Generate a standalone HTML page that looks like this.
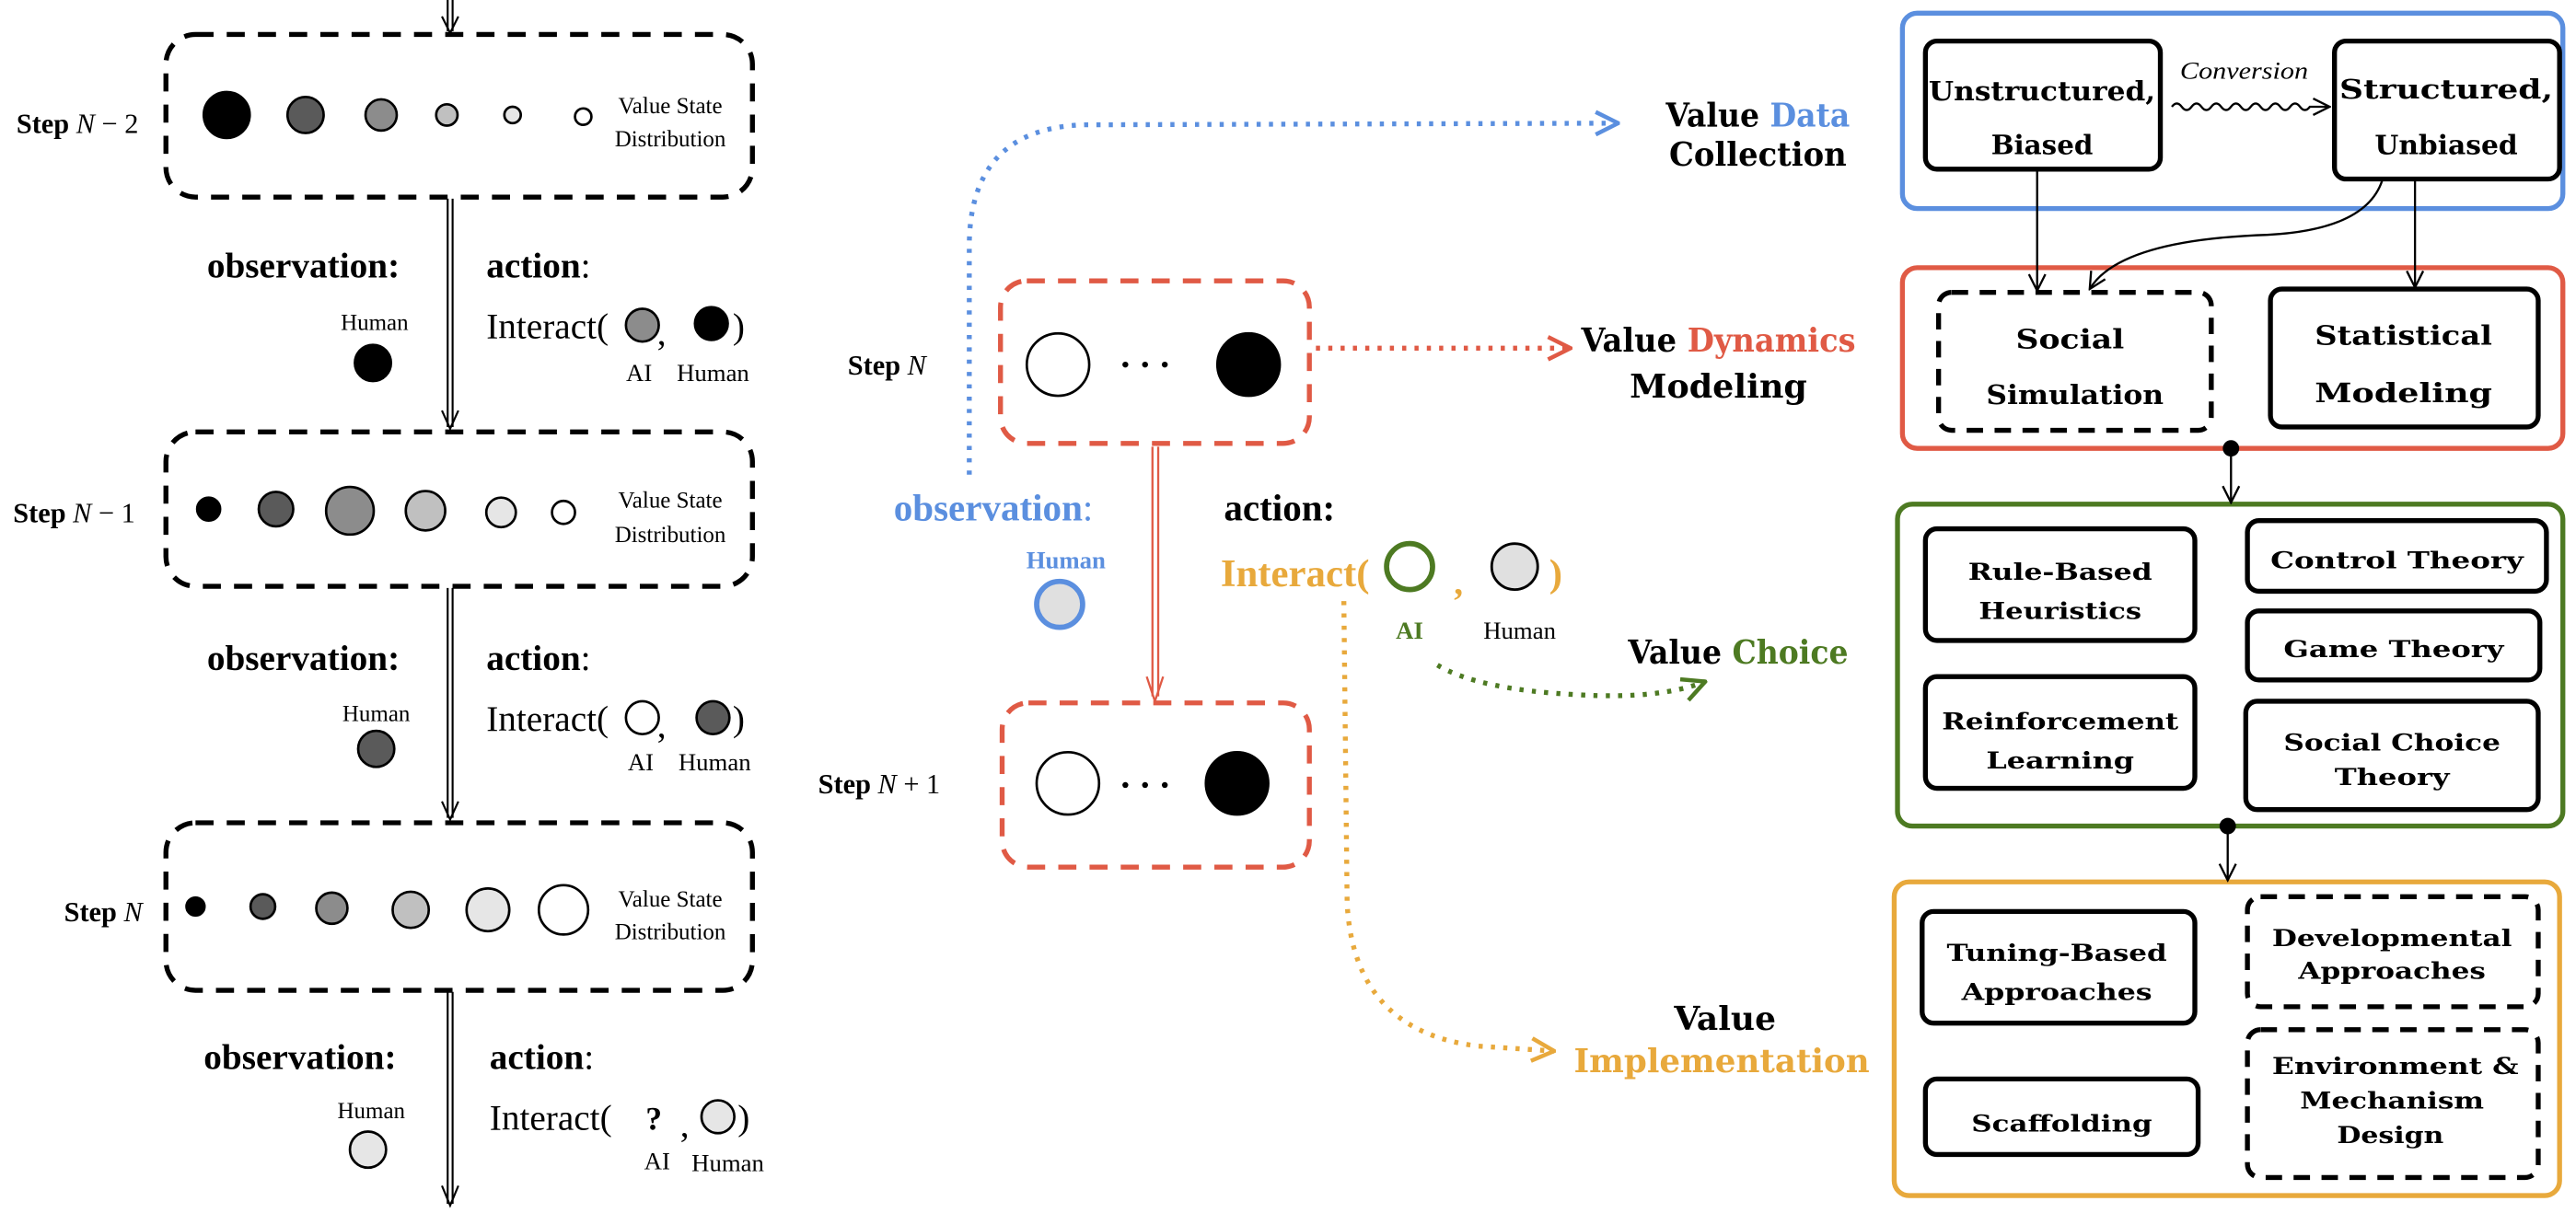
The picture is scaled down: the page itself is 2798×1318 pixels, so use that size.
<!DOCTYPE html>
<html><head><meta charset="utf-8"><style>
html,body{margin:0;padding:0;background:#fff;}
svg{display:block;}
.ser{font-family:"Liberation Serif",serif;}
.bw{font-family:"DejaVu Serif","Liberation Serif",serif;font-weight:bold;}
</style></head><body>
<svg width="2798" height="1318" viewBox="0 0 1568 738.6" xmlns="http://www.w3.org/2000/svg">
<defs>
<marker id="ab" viewBox="0 0 12 12" refX="11" refY="6" markerWidth="12" markerHeight="12" markerUnits="userSpaceOnUse" orient="auto"><path d="M1,1 L11,6 L1,11" fill="none" stroke="#000" stroke-width="1.3"/></marker>
<marker id="ablue" viewBox="0 0 14 14" refX="13" refY="7" markerWidth="16" markerHeight="16" markerUnits="userSpaceOnUse" orient="auto"><path d="M1,1 L13,7 L1,13" fill="none" stroke="#5b8fdf" stroke-width="2.2"/></marker>
<marker id="ared" viewBox="0 0 14 14" refX="13" refY="7" markerWidth="16" markerHeight="16" markerUnits="userSpaceOnUse" orient="auto"><path d="M1,1 L13,7 L1,13" fill="none" stroke="#e05a45" stroke-width="2.2"/></marker>
<marker id="agreen" viewBox="0 0 14 14" refX="13" refY="7" markerWidth="16" markerHeight="16" markerUnits="userSpaceOnUse" orient="auto"><path d="M1,1 L13,7 L1,13" fill="none" stroke="#4d7a22" stroke-width="2.2"/></marker>
<marker id="aor" viewBox="0 0 14 14" refX="13" refY="7" markerWidth="16" markerHeight="16" markerUnits="userSpaceOnUse" orient="auto"><path d="M1,1 L13,7 L1,13" fill="none" stroke="#e8a93c" stroke-width="2.2"/></marker>
</defs>

<!-- LEFT COLUMN -->
<g stroke="#000" stroke-width="1.2" fill="none">
  <line x1="272.5" y1="0" x2="272.5" y2="19"/><line x1="275.5" y1="0" x2="275.5" y2="19"/>
  <path d="M269,10 L274,20 L279,10"/>
  <line x1="272.5" y1="121" x2="272.5" y2="260"/><line x1="275.5" y1="121" x2="275.5" y2="260"/>
  <path d="M269,250 L274,261 L279,250"/>
  <line x1="272.5" y1="358" x2="272.5" y2="498"/><line x1="275.5" y1="358" x2="275.5" y2="498"/>
  <path d="M269,488 L274,499 L279,488"/>
  <line x1="272.5" y1="604" x2="272.5" y2="733"/><line x1="275.5" y1="604" x2="275.5" y2="733"/>
  <path d="M269,722 L274,734 L279,722"/>
</g>
<g stroke="#000" stroke-width="3" fill="none" stroke-dasharray="11,8">
  <rect x="101" y="21" width="357" height="99" rx="18"/>
  <rect x="101" y="263" width="357" height="94" rx="18"/>
  <rect x="101" y="501" width="357" height="102" rx="18"/>
</g>
<g class="ser" font-size="17">
  <text x="10" y="81"><tspan font-weight="bold">Step</tspan> <tspan font-style="italic">N</tspan> − 2</text>
  <text x="8" y="318"><tspan font-weight="bold">Step</tspan> <tspan font-style="italic">N</tspan> − 1</text>
  <text x="39" y="561"><tspan font-weight="bold">Step</tspan> <tspan font-style="italic">N</tspan></text>
</g>
<g class="ser" font-size="14" text-anchor="middle">
  <text x="408" y="69">Value State</text><text x="408" y="89">Distribution</text>
  <text x="408" y="309">Value State</text><text x="408" y="330">Distribution</text>
  <text x="408" y="552">Value State</text><text x="408" y="572">Distribution</text>
</g>
<g stroke="#000" stroke-width="1.5">
  <circle cx="138" cy="70" r="14" fill="#000"/>
  <circle cx="186" cy="70" r="11" fill="#5a5a5a"/>
  <circle cx="232" cy="70" r="9.5" fill="#8c8c8c"/>
  <circle cx="272" cy="70" r="6.5" fill="#c0c0c0"/>
  <circle cx="312" cy="70" r="5" fill="#e6e6e6"/>
  <circle cx="355" cy="71" r="5" fill="#fff"/>

  <circle cx="127" cy="310" r="7" fill="#000"/>
  <circle cx="168" cy="310" r="10.5" fill="#5a5a5a"/>
  <circle cx="213" cy="311" r="14.5" fill="#8c8c8c"/>
  <circle cx="259" cy="311" r="12" fill="#c0c0c0"/>
  <circle cx="305" cy="312" r="9" fill="#e6e6e6"/>
  <circle cx="343" cy="312" r="7" fill="#fff"/>

  <circle cx="119" cy="552" r="5.5" fill="#000"/>
  <circle cx="160" cy="552" r="7.5" fill="#5a5a5a"/>
  <circle cx="202" cy="553" r="9.5" fill="#8c8c8c"/>
  <circle cx="250" cy="554" r="11" fill="#c0c0c0"/>
  <circle cx="297" cy="554" r="13" fill="#e6e6e6"/>
  <circle cx="343" cy="554" r="15" fill="#fff"/>
</g>
<g class="ser">
  <text x="126" y="169" font-size="22" font-weight="bold">observation:</text>
  <text x="296" y="169" font-size="22"><tspan font-weight="bold">action</tspan>:</text>
  <text x="228" y="201" font-size="14" text-anchor="middle">Human</text>
  <text x="296" y="206" font-size="22">Interact(</text>
  <text x="400" y="210" font-size="22">,</text>
  <text x="446" y="206" font-size="22">)</text>
  <text x="389" y="232" font-size="15" text-anchor="middle">AI</text>
  <text x="434" y="232" font-size="15" text-anchor="middle">Human</text>

  <text x="126" y="408" font-size="22" font-weight="bold">observation:</text>
  <text x="296" y="408" font-size="22"><tspan font-weight="bold">action</tspan>:</text>
  <text x="229" y="439" font-size="14" text-anchor="middle">Human</text>
  <text x="296" y="445" font-size="22">Interact(</text>
  <text x="400" y="449" font-size="22">,</text>
  <text x="446" y="445" font-size="22">)</text>
  <text x="390" y="469" font-size="15" text-anchor="middle">AI</text>
  <text x="435" y="469" font-size="15" text-anchor="middle">Human</text>

  <text x="124" y="651" font-size="22" font-weight="bold">observation:</text>
  <text x="298" y="651" font-size="22"><tspan font-weight="bold">action</tspan>:</text>
  <text x="226" y="681" font-size="14" text-anchor="middle">Human</text>
  <text x="298" y="688" font-size="22">Interact(</text>
  <text x="398" y="688" font-size="20" font-weight="bold" text-anchor="middle">?</text>
  <text x="414" y="692" font-size="22">,</text>
  <text x="449" y="688" font-size="22">)</text>
  <text x="400" y="712" font-size="15" text-anchor="middle">AI</text>
  <text x="443" y="713" font-size="15" text-anchor="middle">Human</text>
</g>
<g stroke="#000" stroke-width="1.5">
  <circle cx="227" cy="221" r="11" fill="#000"/>
  <circle cx="391" cy="198" r="10" fill="#8c8c8c"/>
  <circle cx="433" cy="197" r="10" fill="#000"/>
  <circle cx="229" cy="456" r="11" fill="#5a5a5a"/>
  <circle cx="391" cy="437" r="10" fill="#fff"/>
  <circle cx="434" cy="437" r="10" fill="#5a5a5a"/>
  <circle cx="224" cy="700" r="11" fill="#e6e6e6"/>
  <circle cx="437" cy="680" r="10" fill="#e6e6e6"/>
</g>

<!-- MIDDLE -->
<path d="M590,289 L590,150 Q590,78 660,76 L985,75" fill="none" stroke="#5b8fdf" stroke-width="3" stroke-dasharray="2.5,5" marker-end="url(#ablue)"/>
<path d="M801,212 L956,212" fill="none" stroke="#e05a45" stroke-width="3" stroke-dasharray="2.5,5" marker-end="url(#ared)"/>
<path d="M875,405 Q900,420 960,423 Q1010,426 1038,415" fill="none" stroke="#4d7a22" stroke-width="3" stroke-dasharray="2.5,5" marker-end="url(#agreen)"/>
<path d="M818,366 L820,550 Q824,628 900,637 L946,640" fill="none" stroke="#e8a93c" stroke-width="3" stroke-dasharray="2.5,5" marker-end="url(#aor)"/>

<g stroke="#e05a45" stroke-width="3" fill="none" stroke-dasharray="11,8">
  <rect x="609" y="171" width="188" height="99" rx="16"/>
  <rect x="610" y="428" width="187" height="100" rx="16"/>
</g>
<g stroke="#e05a45" stroke-width="1.3" fill="none">
  <line x1="701.5" y1="272" x2="701.5" y2="424"/><line x1="705" y1="272" x2="705" y2="424"/>
  <path d="M698,412 L703,427 L708,412"/>
</g>
<g stroke="#000" stroke-width="1.5">
  <circle cx="644" cy="222" r="19" fill="#fff"/>
  <circle cx="760" cy="222" r="19" fill="#000"/>
  <circle cx="650" cy="477" r="19" fill="#fff"/>
  <circle cx="753" cy="477" r="19" fill="#000"/>
</g>
<g fill="#000">
  <circle cx="685" cy="222" r="1.8"/><circle cx="697" cy="222" r="1.8"/><circle cx="709" cy="222" r="1.8"/>
  <circle cx="685" cy="478" r="1.8"/><circle cx="697" cy="478" r="1.8"/><circle cx="709" cy="478" r="1.8"/>
</g>
<g class="ser" font-size="17">
  <text x="516" y="228"><tspan font-weight="bold">Step</tspan> <tspan font-style="italic">N</tspan></text>
  <text x="498" y="483"><tspan font-weight="bold">Step</tspan> <tspan font-style="italic">N</tspan> + 1</text>
</g>
<g class="ser" font-weight="bold">
  <text x="544" y="317" font-size="23" fill="#5b8fdf">observation<tspan font-weight="normal">:</tspan></text>
  <text x="745" y="317" font-size="23" fill="#000">action:</text>
  <text x="673" y="346" font-size="15" fill="#5b8fdf" text-anchor="end">Human</text>
  <text x="743" y="357" font-size="24" fill="#e8a93c">Interact(</text>
  <text x="885" y="362" font-size="22" fill="#e8a93c">,</text>
  <text x="943" y="357" font-size="24" fill="#e8a93c">)</text>
  <text x="858" y="389" font-size="15" fill="#4d7a22" text-anchor="middle">AI</text>
  <text x="925" y="389" font-size="15" fill="#000" font-weight="normal" text-anchor="middle">Human</text>
</g>
<circle cx="645" cy="368" r="14" fill="#e0e0e0" stroke="#5b8fdf" stroke-width="3.2"/>
<circle cx="858" cy="345" r="14" fill="#fff" stroke="#4d7a22" stroke-width="3.2"/>
<circle cx="922" cy="345" r="14" fill="#e0e0e0" stroke="#000" stroke-width="1.6"/>

<g class="bw" font-size="20" text-anchor="middle">
  <text x="1070" y="77" textLength="112" lengthAdjust="spacingAndGlyphs">Value <tspan fill="#5b8fdf">Data</tspan></text>
  <text x="1070" y="101" textLength="108" lengthAdjust="spacingAndGlyphs">Collection</text>
  <text x="1046" y="214" textLength="167" lengthAdjust="spacingAndGlyphs">Value <tspan fill="#e05a45">Dynamics</tspan></text>
  <text x="1046" y="242" textLength="108" lengthAdjust="spacingAndGlyphs">Modeling</text>
  <text x="1058" y="404" textLength="134" lengthAdjust="spacingAndGlyphs">Value <tspan fill="#4d7a22">Choice</tspan></text>
  <text x="1050" y="627" textLength="62" lengthAdjust="spacingAndGlyphs">Value</text>
  <text x="1048" y="653" fill="#e8a93c" textLength="180" lengthAdjust="spacingAndGlyphs">Implementation</text>
</g>

<!-- RIGHT PANEL -->
<g fill="none" stroke-width="3">
  <rect x="1158" y="8" width="402" height="119" rx="9" stroke="#5b8fdf"/>
  <rect x="1158" y="163" width="402" height="110" rx="9" stroke="#e05a45"/>
  <rect x="1155" y="307" width="405" height="196" rx="9" stroke="#4d7a22"/>
  <rect x="1153" y="537" width="405" height="191" rx="9" stroke="#e8a93c"/>
</g>
<g fill="none" stroke="#000" stroke-width="3">
  <rect x="1172" y="25" width="143" height="78" rx="7"/>
  <rect x="1421" y="25" width="137" height="84" rx="7"/>
  <rect x="1382" y="176" width="163" height="84" rx="7"/>
  <rect x="1172" y="322" width="164" height="68" rx="7"/>
  <rect x="1368" y="317" width="182" height="43" rx="7"/>
  <rect x="1368" y="372" width="178" height="42" rx="7"/>
  <rect x="1172" y="412" width="164" height="68" rx="7"/>
  <rect x="1367" y="427" width="178" height="66" rx="7"/>
  <rect x="1170" y="555" width="166" height="68" rx="7"/>
  <rect x="1172" y="657" width="166" height="46" rx="7"/>
</g>
<g fill="none" stroke="#000" stroke-width="3" stroke-dasharray="10,7">
  <rect x="1180" y="178" width="166" height="84" rx="8"/>
  <rect x="1368" y="546" width="177" height="67" rx="8"/>
  <rect x="1368" y="627" width="177" height="90" rx="8"/>
</g>
<g fill="none" stroke="#000" stroke-width="1.3">
  <line x1="1240" y1="104" x2="1240" y2="177" marker-end="url(#ab)"/>
  <path d="M1450,110 Q1440,140 1380,143 Q1290,146 1272,176" marker-end="url(#ab)"/>
  <line x1="1470" y1="110" x2="1470" y2="175" marker-end="url(#ab)"/>
  <line x1="1358" y1="275" x2="1358" y2="306" marker-end="url(#ab)"/>
  <line x1="1356" y1="505" x2="1356" y2="536" marker-end="url(#ab)"/>
  <path d="M1322,65 q3,-4 6,0 t6,0 t6,0 t6,0 t6,0 t6,0 t6,0 t6,0 t6,0 t6,0 t6,0 t6,0 t6,0 t6,0 L1418,65" marker-end="url(#ab)"/>
</g>
<circle cx="1358" cy="273" r="5" fill="#000"/>
<circle cx="1356" cy="503" r="5" fill="#000"/>
<text x="1366" y="48" class="ser" font-style="italic" font-size="15" text-anchor="middle" textLength="78" lengthAdjust="spacingAndGlyphs">Conversion</text>
<g class="bw" font-size="16" text-anchor="middle">
  <text x="1243" y="61" textLength="138" lengthAdjust="spacingAndGlyphs">Unstructured,</text>
  <text x="1243" y="94" textLength="62" lengthAdjust="spacingAndGlyphs">Biased</text>
  <text x="1489" y="60" textLength="130" lengthAdjust="spacingAndGlyphs">Structured,</text>
  <text x="1489" y="94" textLength="87" lengthAdjust="spacingAndGlyphs">Unbiased</text>
  <text x="1260" y="212" textLength="66" lengthAdjust="spacingAndGlyphs">Social</text>
  <text x="1263" y="246" textLength="108" lengthAdjust="spacingAndGlyphs">Simulation</text>
  <text x="1463" y="210" textLength="108" lengthAdjust="spacingAndGlyphs">Statistical</text>
  <text x="1463" y="245" textLength="108" lengthAdjust="spacingAndGlyphs">Modeling</text>
</g>
<g class="bw" font-size="14" text-anchor="middle">
  <text x="1254" y="353" textLength="112" lengthAdjust="spacingAndGlyphs">Rule-Based</text>
  <text x="1254" y="377" textLength="99" lengthAdjust="spacingAndGlyphs">Heuristics</text>
  <text x="1459" y="346" textLength="154" lengthAdjust="spacingAndGlyphs">Control Theory</text>
  <text x="1457" y="400" textLength="134" lengthAdjust="spacingAndGlyphs">Game Theory</text>
  <text x="1254" y="444" textLength="144" lengthAdjust="spacingAndGlyphs">Reinforcement</text>
  <text x="1254" y="468" textLength="90" lengthAdjust="spacingAndGlyphs">Learning</text>
  <text x="1456" y="457" textLength="132" lengthAdjust="spacingAndGlyphs">Social Choice</text>
  <text x="1456" y="478" textLength="70" lengthAdjust="spacingAndGlyphs">Theory</text>
  <text x="1252" y="585" textLength="134" lengthAdjust="spacingAndGlyphs">Tuning-Based</text>
  <text x="1252" y="609" textLength="116" lengthAdjust="spacingAndGlyphs">Approaches</text>
  <text x="1456" y="576" textLength="146" lengthAdjust="spacingAndGlyphs">Developmental</text>
  <text x="1456" y="596" textLength="114" lengthAdjust="spacingAndGlyphs">Approaches</text>
  <text x="1255" y="689" textLength="110" lengthAdjust="spacingAndGlyphs">Scaffolding</text>
  <text x="1458" y="654" textLength="150" lengthAdjust="spacingAndGlyphs">Environment &amp;</text>
  <text x="1456" y="675" textLength="112" lengthAdjust="spacingAndGlyphs">Mechanism</text>
  <text x="1455" y="696" textLength="65" lengthAdjust="spacingAndGlyphs">Design</text>
</g>
</svg>
</body></html>
